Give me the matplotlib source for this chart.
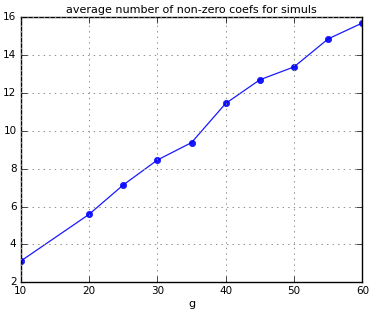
import matplotlib
matplotlib.use("Agg")
import matplotlib.pyplot as plt

# values
g_values = [10, 20, 25, 30, 35, 40, 45, 50, 55, 60]
avg_nonzero = [3.12, 5.59, 7.14, 8.46, 9.38, 11.45, 12.70, 13.38, 14.86, 15.70]


def main():
    plt.style.use("classic")
    fig = plt.figure(figsize=(3.74, 3.13), dpi=100, facecolor="white")
    ax = fig.add_axes([0.0553, 0.098, 0.9135, 0.8467])

    ax.plot(g_values, avg_nonzero, "o-", color="b", markersize=4.5,
            markeredgecolor="b", linewidth=0.9, alpha=0.9)

    ax.set_xlim(10, 60)
    ax.set_ylim(2, 16)
    ax.set_xticks([10, 20, 30, 40, 50, 60])
    ax.set_yticks([2, 4, 6, 8, 10, 12, 14, 16])
    ax.tick_params(labelsize=7.5, pad=3)
    ax.grid(True, linestyle=":", color="0.55", linewidth=0.7)

    ax.set_title("average number of non-zero coefs for simuls", fontsize=8, pad=3)
    ax.set_xlabel("g", fontsize=8, labelpad=2)

    fig.savefig("out.png", dpi=100, facecolor="white")


if __name__ == "__main__":
    main()
